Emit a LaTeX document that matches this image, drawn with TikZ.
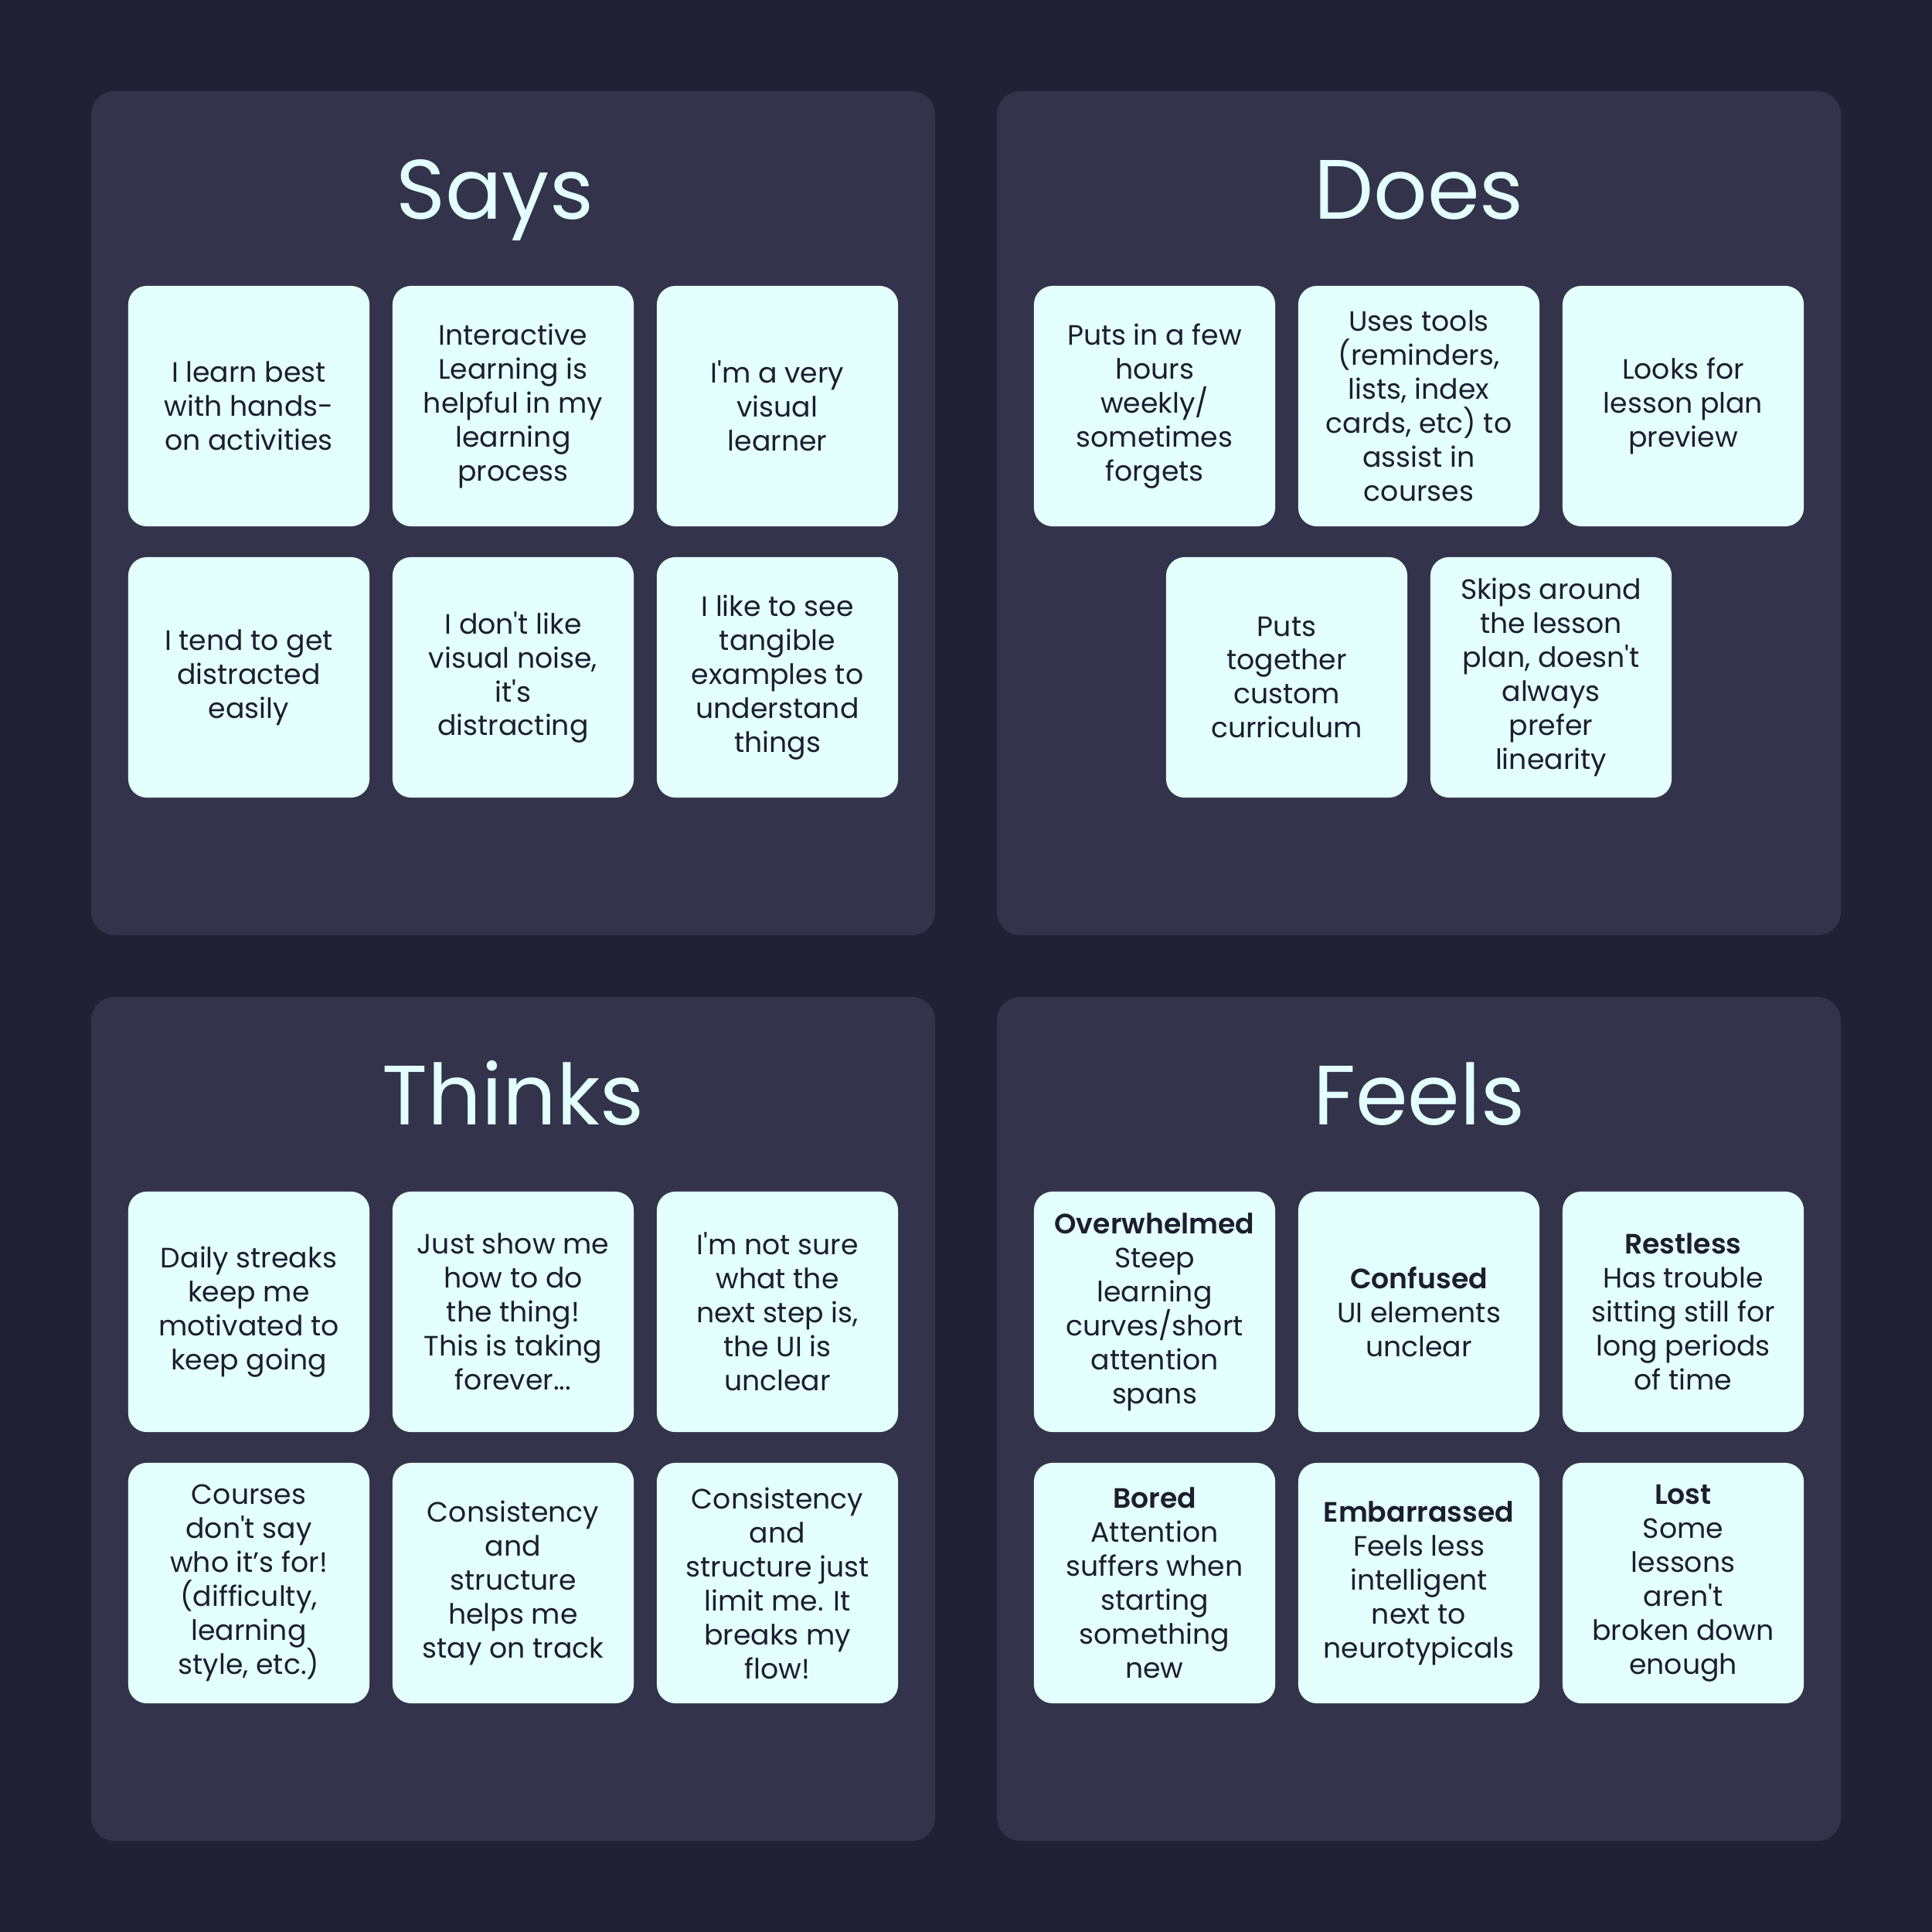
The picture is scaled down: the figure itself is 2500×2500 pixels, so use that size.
\documentclass[tikz,border=0pt]{standalone}
\usepackage{fontspec}
\setmainfont{Poppins}[Ligatures=TeXOff,BoldFont={Poppins SemiBold}]
\definecolor{bgdark}{HTML}{212133}
\definecolor{panelcol}{HTML}{33334B}
\definecolor{cardcol}{HTML}{E3FFFE}
\definecolor{inkcol}{HTML}{1D1D2E}

\begin{document}
\begin{tikzpicture}[x=0.01cm,y=-0.01cm,
  panel/.style={fill=panelcol,rounded corners=0.3cm},
  card/.style={fill=cardcol,rounded corners=0.24cm,minimum width=3.12cm,minimum height=3.11cm,
    inner sep=0pt,align=center,text=inkcol,font=\fontsize{10.3}{12.5}\selectfont},
  heading/.style={text=cardcol,font=\fontsize{31}{37}\selectfont,inner sep=0pt,anchor=base}]
  % columns and rows (px of the 2500 grid)
  \def\ca{322}  \def\cb{664}  \def\cc{1006}
  \def\cd{1494} \def\ce{1836} \def\cf{2178}
  \def\ra{525.5} \def\rb{876.5} \def\rc{1697.5} \def\rd{2048.5}
  \fill[bgdark] (0,0) rectangle (2500,2500);
  \fill[panel] (118,118) rectangle (1210,1210);
  \fill[panel] (1290,118) rectangle (2382,1210);
  \fill[panel] (118,1290) rectangle (1210,2382);
  \fill[panel] (1290,1290) rectangle (2382,2382);
  % Says
  \node[heading] (saysT) at (640,283) {Says};
  \node[card] (s1) at (\ca,\ra) {I learn best\\with hands-\\on activities};
  \node[card] (s2) at (\cb,\ra) {Interactive\\Learning is\\helpful in my\\learning\\process};
  \node[card] (s3) at (\cc,\ra) {I'm a very\\visual\\learner};
  \node[card] (s4) at (\ca,\rb) {I tend to get\\distracted\\easily};
  \node[card] (s5) at (\cb,\rb) {I don't like\\visual noise,\\it's\\distracting};
  \node[card] (s6) at (\cc,\rb) {I like to see\\tangible\\examples to\\understand\\things};
  % Does
  \node[heading] (doesT) at (\ce,283) {Does};
  \node[card] (d1) at (\cd,\ra) {Puts in a few\\hours\\weekly/\\sometimes\\forgets};
  \node[card] (d2) at (\ce,\ra) {Uses tools\\(reminders,\\lists, index\\cards, etc) to\\assist in\\courses};
  \node[card] (d3) at (\cf,\ra) {Looks for\\lesson plan\\preview};
  \node[card] (d4) at (\ce-171,\rb) {Puts\\together\\custom\\curriculum};
  \node[card] (d5) at (\ce+171,\rb) {Skips around\\the lesson\\plan, doesn't\\always\\prefer\\linearity};
  % Thinks
  \node[heading] (thinksT) at (\cb,1455) {Thinks};
  \node[card] (t1) at (\ca,\rc) {Daily streaks\\keep me\\motivated to\\keep going};
  \node[card] (t2) at (\cb,\rc) {Just show me\\how to do\\the thing!\\This is taking\\forever...};
  \node[card] (t3) at (\cc,\rc) {I'm not sure\\what the\\next step is,\\the UI is\\unclear};
  \node[card] (t4) at (\ca,\rd) {Courses\\don't say\\who it’s for!\\(difficulty,\\learning\\style, etc.)};
  \node[card] (t5) at (\cb,\rd) {Consistency\\and\\structure\\helps me\\stay on track};
  \node[card] (t6) at (\cc,\rd) {Consistency\\and\\structure just\\limit me. It\\breaks my\\flow!};
  % Feels
  \node[heading] (feelsT) at (\ce,1455) {Feels};
  \node[card] (f1) at (\cd,\rc) {\textbf{Overwhelmed}\\Steep\\learning\\curves/short\\attention\\spans};
  \node[card] (f2) at (\ce,\rc) {\textbf{Confused}\\UI elements\\unclear};
  \node[card] (f3) at (\cf,\rc) {\textbf{Restless}\\Has trouble\\sitting still for\\long periods\\of time};
  \node[card] (f4) at (\cd,\rd) {\textbf{Bored}\\Attention\\suffers when\\starting\\something\\new};
  \node[card] (f5) at (\ce,\rd) {\textbf{Embarrassed}\\Feels less\\intelligent\\next to\\neurotypicals};
  \node[card] (f6) at (\cf,\rd) {\textbf{Lost}\\Some\\lessons\\aren't\\broken down\\enough};
\end{tikzpicture}
\end{document}
